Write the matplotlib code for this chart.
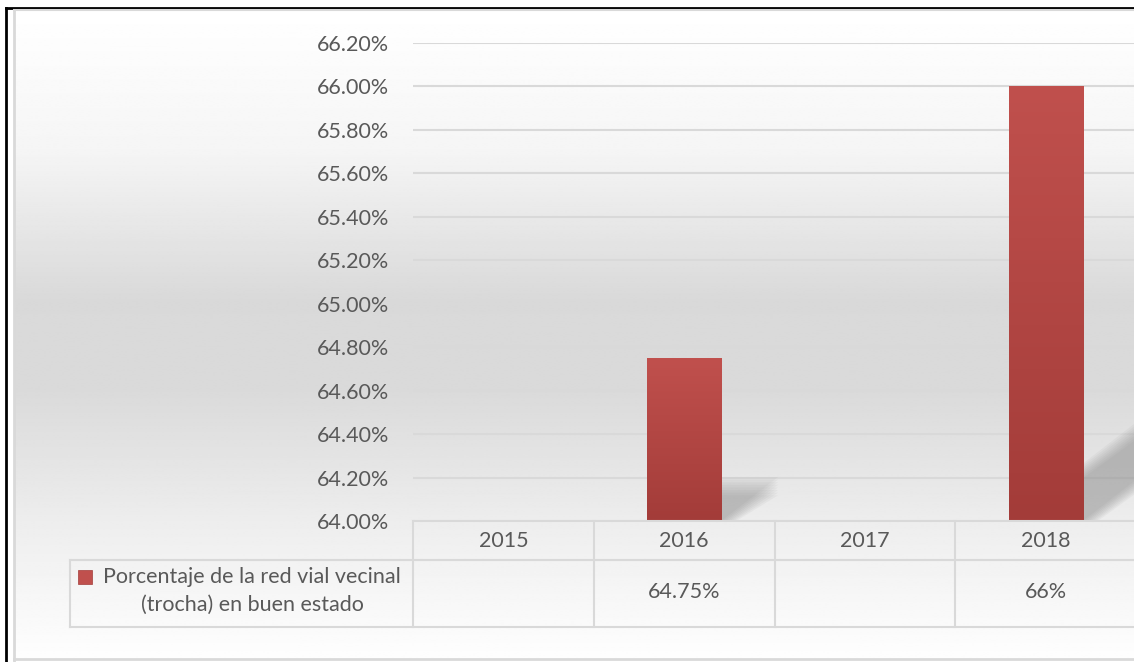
import matplotlib
matplotlib.use("Agg")
import matplotlib.pyplot as plt
from matplotlib.patches import Polygon, Rectangle
from matplotlib.colors import LinearSegmentedColormap
import numpy as np

years = ["2015", "2016", "2017", "2018"]
values = [None, 64.75, None, 66.0]
value_labels = ["", "64.75%", "", "66%"]
series_name = ["Porcentaje de la red vial vecinal", "(trocha) en buen estado"]
y_ticks = [64.0, 64.2, 64.4, 64.6, 64.8, 65.0, 65.2, 65.4, 65.6, 65.8, 66.0, 66.2]

W, H = 1134, 662
txt = "#595959"
grid_c = "#d9d9d9"
fs = 15.5
plt.rcParams['font.family'] = ['Lato', 'DejaVu Sans']

fig = plt.figure(figsize=(W / 100, H / 100), dpi=100)
fig.patch.set_facecolor("white")

# background gradient of the chart area
bg = fig.add_axes([14 / W, 0, 1 - 14 / W, 1 - 10 / H], zorder=-10)
rows = np.array([10, 150, 300, 390, 521, 658])
shade = np.array([255, 245, 217, 218, 237, 254]) / 255
yy = np.linspace(10, 658, 400)
col = np.interp(yy, rows, shade)
bg.imshow(np.repeat(col[:, None], 2, axis=1), cmap="gray", vmin=0, vmax=1,
          aspect="auto", extent=[0, 1, 658, 10], interpolation="bilinear")
bg.set_xlim(0, 1)
bg.set_ylim(662, 10)
bg.axis("off")

# outer frame
fig.add_artist(plt.Line2D([6 / W, 6 / W], [0, 1 - 8 / H], color="black", lw=2))
fig.add_artist(plt.Line2D([6 / W, 1], [1 - 8 / H, 1 - 8 / H], color="black", lw=2))
fig.add_artist(plt.Line2D([14 / W, 14 / W], [1 / H, 1 - 10 / H], color="#d9d9d9", lw=2))
fig.add_artist(plt.Line2D([14 / W, 1], [1 - 659 / H, 1 - 659 / H], color="#d9d9d9", lw=2))
fig.add_artist(plt.Line2D([14 / W, 1], [1 - 10 / H, 1 - 10 / H], color="#d9d9d9", lw=1.5))

ax = fig.add_axes([413 / W, 1 - 521 / H, (1136 - 413) / W, (521 - 43) / H])
ax.patch.set_alpha(0)
ax.set_yticks(y_ticks)
ax.set_yticklabels([f"{t:.2f}%" for t in y_ticks], fontsize=fs, color=txt)
ax.tick_params(axis="y", length=0, pad=17)
ax.set_xticks([])
for s in ax.spines.values():
    s.set_visible(False)
for t in y_ticks:
    ax.axhline(t, color=grid_c, lw=1.5, zorder=0)

# bars with a vertical gradient, plus a soft perspective shadow
bw = 0.41
bar_cmap = LinearSegmentedColormap.from_list("bar", ["#a33c39", "#c0504d"])
for i, v in enumerate(values):
    if v is None:
        continue
    h = v - 64.0
    dx, dy = 0.42 * h, 0.27 * h
    xl, xr = i - bw / 2, i + bw / 2
    for k in range(8):
        g = 0.012 * k
        sh = Polygon([(xl + g, 64.0), (xr + g, 64.0), (xr + dx, 64.0 + dy - g),
                      (xl + dx, 64.0 + dy - g)], closed=True, facecolor="#808080",
                     edgecolor="none", alpha=0.07, zorder=1, clip_on=False)
        ax.add_patch(sh)
    # top row of the image is drawn at the top of the bar
    grad = np.linspace(1, 0, 100)[:, None]
    ax.imshow(grad, cmap=bar_cmap, aspect="auto", extent=[xl, xr, 64.0, v],
              zorder=2, vmin=0, vmax=1)
ax.set_xlim(-0.5, 3.5)
ax.set_ylim(64.0, 66.2)

# data table under the plot
line_kw = dict(color=grid_c, lw=1.5, clip_on=False)
x_left = (70 - 413) / 181 - 0.5
y_of = lambda py: 64.0 - (py - 521) / 217.3
ax.plot([-0.5, 3.6], [64.0, 64.0], **line_kw)
ax.plot([x_left, 3.6], [y_of(560), y_of(560)], **line_kw)
ax.plot([x_left, 3.6], [y_of(627), y_of(627)], **line_kw)
ax.plot([x_left, x_left], [y_of(560), y_of(627)], **line_kw)
for j in range(4):
    ax.plot([j - 0.5, j - 0.5], [64.0, y_of(627)], **line_kw)
for j, (yr, lab) in enumerate(zip(years, value_labels)):
    ax.text(j, y_of(541), yr, ha="center", va="center", fontsize=fs, color=txt)
    ax.text(j, y_of(592), lab, ha="center", va="center", fontsize=fs, color=txt)

xc = (252 - 413) / 181 - 0.5
ax.text(xc, y_of(577), series_name[0], ha="center", va="center",
        fontsize=fs, color=txt, clip_on=False)
ax.text(xc, y_of(605), series_name[1], ha="center", va="center",
        fontsize=fs, color=txt, clip_on=False)
ax.add_patch(Rectangle(((78 - 413) / 181 - 0.5, y_of(584)), 14 / 181, 14 / 217.3,
                       facecolor="#c0504d", edgecolor="#a33c39", lw=0.5, clip_on=False))

fig.savefig("out.png", dpi=100)
